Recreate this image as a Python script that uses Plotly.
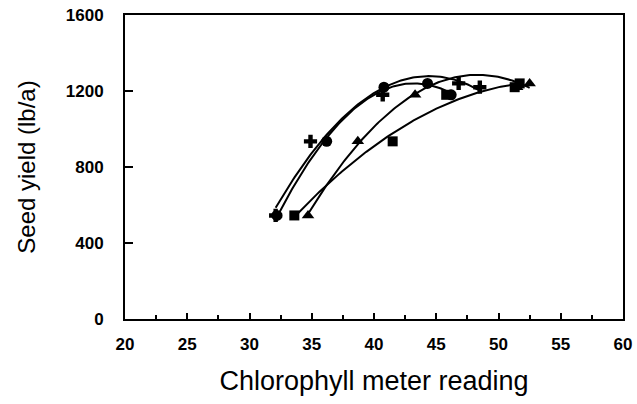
import numpy as np
import plotly.graph_objects as go

# Chlorophyll meter readings and seed yields, one list pair per sampling
chl_plus = [32.1, 34.9, 40.7, 46.8, 48.5]
yld_plus = [545, 935, 1180, 1240, 1220]

chl_circle = [32.2, 36.2, 40.8, 44.3, 46.2]
yld_circle = [545, 935, 1220, 1240, 1180]

chl_square = [33.6, 41.5, 45.8, 51.3, 51.7]
yld_square = [545, 935, 1180, 1220, 1240]

chl_triangle = [34.7, 38.7, 43.3, 51.5, 52.5]
yld_triangle = [545, 935, 1180, 1220, 1240]

x_ticks = [20, 25, 30, 35, 40, 45, 50, 55, 60]
y_ticks = [0, 400, 800, 1200, 1600]

series = [
    (chl_plus, yld_plus, "cross", 11),
    (chl_circle, yld_circle, "circle", 11),
    (chl_triangle, yld_triangle, "triangle-up", 11),
    (chl_square, yld_square, "square", 10),
]

fig = go.Figure()

# quadratic regression curve for each set, spanning its own readings
for xs, ys, _, _ in series:
    coef = np.polyfit(xs, ys, 2)
    xf = np.linspace(min(xs), max(xs), 120)
    fig.add_trace(go.Scatter(x=xf, y=np.polyval(coef, xf), mode="lines",
                             line=dict(color="black", width=2),
                             hoverinfo="skip", showlegend=False))

for xs, ys, sym, size in series:
    fig.add_trace(go.Scatter(x=xs, y=ys, mode="markers",
                             marker=dict(symbol=sym, size=size, color="black",
                                         line=dict(width=0)),
                             showlegend=False))

font_family = "Liberation Sans, Arial, sans-serif"

fig.update_layout(
    width=637, height=404,
    margin=dict(l=125, r=14, t=15, b=85),
    paper_bgcolor="white", plot_bgcolor="white",
    font=dict(family=font_family, color="black"),
)

fig.update_xaxes(
    range=[20, 60], tickvals=x_ticks, ticktext=[str(v) for v in x_ticks],
    ticks="inside", ticklen=6, tickwidth=1.5, tickcolor="black",
    minor=dict(dtick=2.5, tick0=20, ticks="inside", ticklen=4, tickwidth=1.5, tickcolor="black"),
    showline=True, linecolor="black", linewidth=2, mirror=True,
    showgrid=False, zeroline=False, automargin=False,
    tickfont=dict(size=17, family=font_family, weight="bold"),
    ticklabelstandoff=9,
    title=dict(text="Chlorophyll meter reading", font=dict(size=27, family=font_family), standoff=18),
)

fig.update_yaxes(
    range=[0, 1600], tickvals=y_ticks, ticktext=[str(v) for v in y_ticks],
    ticks="inside", ticklen=8, tickwidth=1.5, tickcolor="black",
    showline=True, linecolor="black", linewidth=2, mirror=True,
    showgrid=False, zeroline=False, automargin=False,
    tickfont=dict(size=17, family=font_family, weight="bold"),
    ticklabelstandoff=16,
    title=dict(text="Seed yield (lb/a)", font=dict(size=24, family=font_family), standoff=23),
)

fig.write_html("out.html")
